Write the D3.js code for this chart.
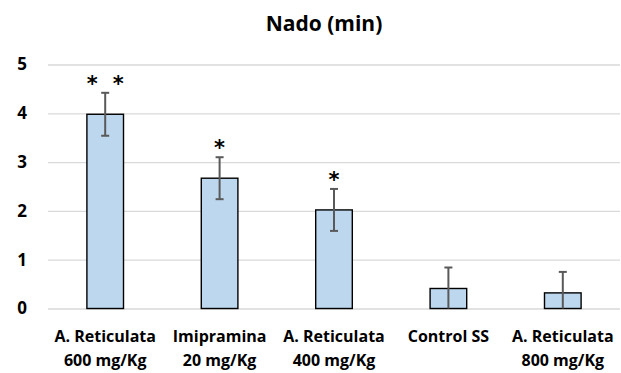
<!DOCTYPE html>
<html>
<head>
<meta charset="utf-8">
<script src="https://cdn.jsdelivr.net/npm/d3@7"></script>
<style>
  html, body { margin: 0; padding: 0; background: #fff; }
  svg { display: block; }
  text { font-family: "Open Sans", Lato, "Liberation Sans", sans-serif; font-weight: bold; fill: #000; }
</style>
</head>
<body>
<svg id="chart" width="621" height="373"></svg>
<script>
// Category labels, split over two lines
const labelLine1 = ["A. Reticulata", "Imipramina", "A. Reticulata", "Control SS", "A. Reticulata"];
const labelLine2 = ["600 mg/Kg", "20 mg/Kg", "400 mg/Kg", "", "800 mg/Kg"];
const categories = ["AR600", "IMI20", "AR400", "CSS", "AR800"];
// Swimming time (min) and its error
const values = [3.98, 2.67, 2.02, 0.41, 0.32];
const errors = [0.44, 0.43, 0.43, 0.43, 0.43];
// Number of significance asterisks above each bar
const stars = [2, 1, 1, 0, 0];
const yTicks = [0, 1, 2, 3, 4, 5];

const svg = d3.select("#chart");
const margin = { left: 48, right: 1, top: 64.5, bottom: 64.5 };
const W = 621, H = 373;

const x = d3.scaleBand().domain(categories)
  .range([margin.left, W - margin.right]).paddingInner(0.68).paddingOuter(0.34);
const y = d3.scaleLinear().domain([0, 5]).range([H - margin.bottom, margin.top]);

// Title
svg.append("text").attr("x", 324).attr("y", 31).attr("text-anchor", "middle")
  .style("font-size", "21px").text("Nado (min)");

// Gridlines and y tick labels
const yAxis = d3.axisLeft(y).tickValues(yTicks).tickFormat(d3.format("d"))
  .tickSize(-(W - margin.right - margin.left)).tickPadding(21);
const gy = svg.append("g").attr("transform", `translate(${margin.left},0)`).call(yAxis);
gy.select(".domain").remove();
gy.selectAll(".tick line").attr("stroke", "#d9d9d9").attr("stroke-width", 1.3);
gy.selectAll(".tick text").style("font-size", "17px")
  .style("font-family", "'Open Sans', sans-serif").style("font-weight", "bold").attr("fill", "#000");

// Bars
svg.append("g").selectAll("rect").data(values).join("rect")
  .attr("x", (d, i) => x(categories[i]))
  .attr("y", d => y(d))
  .attr("width", x.bandwidth())
  .attr("height", d => y(0) - y(d))
  .attr("fill", "#bdd7ee").attr("stroke", "#000").attr("stroke-width", 1.4);

// Error bars
const eb = svg.append("g").attr("stroke", "#595959").attr("stroke-width", 2);
values.forEach((v, i) => {
  const cx = x(categories[i]) + x.bandwidth() / 2;
  const lo = Math.max(0, v - errors[i]);
  const hi = v + errors[i];
  eb.append("line").attr("x1", cx).attr("x2", cx).attr("y1", y(lo)).attr("y2", y(hi));
  eb.append("line").attr("x1", cx - 4).attr("x2", cx + 4).attr("y1", y(hi)).attr("y2", y(hi));
  if (v - errors[i] > 0)
    eb.append("line").attr("x1", cx - 4).attr("x2", cx + 4).attr("y1", y(lo)).attr("y2", y(lo));
});

// Significance asterisks
const gs = svg.append("g");
stars.forEach((n, i) => {
  const cx = x(categories[i]) + x.bandwidth() / 2;
  const cy = y(values[i] + errors[i]) - 13;
  for (let k = 0; k < n; k++) {
    const off = n === 1 ? 0 : (k === 0 ? -13 : 13);
    gs.append("text").attr("x", cx + off).attr("y", cy + 11)
      .attr("text-anchor", "middle")
      .style("font-family", "'DejaVu Sans', sans-serif").style("font-weight", "bold")
      .style("font-size", "21px").text("*");
  }
});

// Category labels (two lines)
const gx = svg.append("g");
categories.forEach((c, i) => {
  const cx = x(c) + x.bandwidth() / 2;
  gx.append("text").attr("x", cx).attr("y", 342).attr("text-anchor", "middle")
    .style("font-size", "16px").text(labelLine1[i]);
  gx.append("text").attr("x", cx).attr("y", 366).attr("text-anchor", "middle")
    .style("font-size", "16px").text(labelLine2[i]);
});
</script>
</body>
</html>
